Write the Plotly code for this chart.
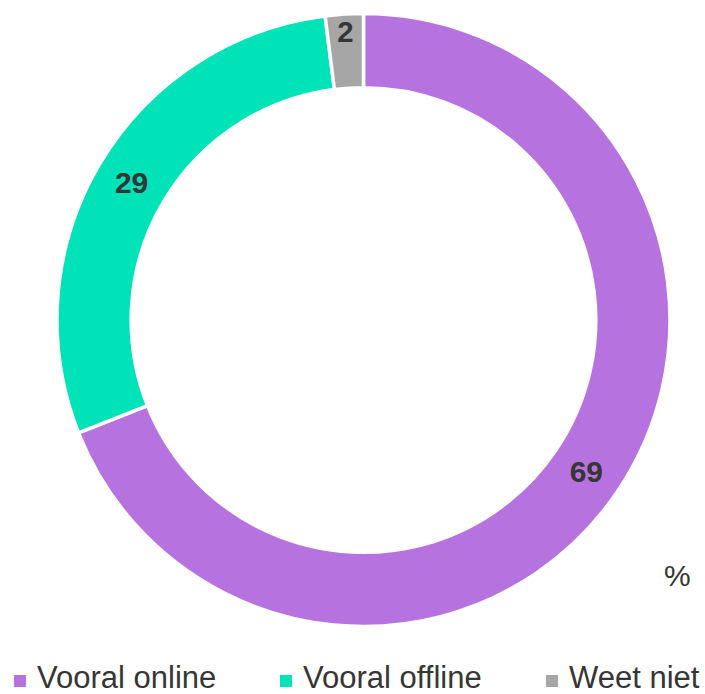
import plotly.graph_objects as go

labels = ["Vooral online", "Vooral offline", "Weet niet"]
values = [69, 29, 2]
colors = ["#B673E0", "#00E2B8", "#A6A6A6"]

W, H = 705, 694
TEXT = "#363636"
FONT = "Liberation Sans"


def px_x(x):
    return x / W


def px_y(y):
    return (H - y) / H


fig = go.Figure()
fig.add_trace(go.Pie(
    labels=labels, values=values, sort=False,
    direction="clockwise", rotation=0, hole=0.758,
    marker=dict(colors=colors, line=dict(color="white", width=3.5)),
    textinfo="value", textposition="inside",
    insidetextorientation="horizontal",
    textfont=dict(size=30, color=TEXT, family=FONT, weight="bold"),
    domain=dict(x=[px_x(57), px_x(670)], y=[px_y(627), px_y(13)]),
    hoverinfo="label+value",
    showlegend=False,
))

# legend row along the bottom (plotly's own legend can't space the entries this wide)
legend_x = [20, 286, 552]
for lab, col, cx in zip(labels, colors, legend_x):
    fig.add_shape(type="rect", xref="paper", yref="paper",
                  x0=px_x(cx - 6), x1=px_x(cx + 6), y0=px_y(687), y1=px_y(675),
                  fillcolor=col, line_width=0)
    fig.add_annotation(text=lab, x=px_x(cx + 15), y=px_y(677), xref="paper", yref="paper",
                       xanchor="left", yanchor="middle", showarrow=False,
                       font=dict(size=31, color=TEXT, family=FONT))

fig.add_annotation(text="%", x=px_x(677), y=px_y(575), xref="paper", yref="paper",
                   xanchor="center", yanchor="middle", showarrow=False,
                   font=dict(size=30, color=TEXT, family=FONT))

fig.update_layout(
    width=W, height=H,
    margin=dict(l=0, r=0, t=0, b=0),
    paper_bgcolor="white",
    font=dict(family=FONT, color=TEXT),
)

fig.write_html("out.html", config={"displayModeBar": False},
               post_script="document.body.style.margin='0';")
